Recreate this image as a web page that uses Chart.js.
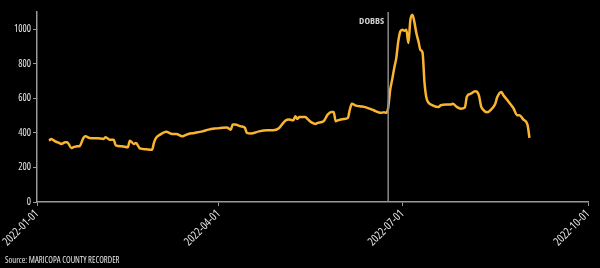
<!DOCTYPE html>
<html>
<head>
<meta charset="utf-8">
<script src="https://cdn.jsdelivr.net/npm/chart.js@4.4.0/dist/chart.umd.min.js"></script>
<style>
  html, body { margin: 0; padding: 0; background: #000; }
  #wrap { position: relative; width: 600px; height: 268px; }
  #source {
    position: absolute; left: 5px; top: 254px;
    font-family: 'Open Sans', sans-serif; font-stretch: condensed;
    font-size: 8.6px; color: #e6e6e6;
  }
</style>
</head>
<body>
<div id="wrap">
  <canvas id="chart"></canvas>
  <div id="source">Source: MARICOPA COUNTY RECORDER</div>
</div>
<script>
// daily readings
const dates = [
  '2022-01-07','2022-01-08','2022-01-10','2022-01-12','2022-01-13','2022-01-15','2022-01-16','2022-01-18',
  '2022-01-19','2022-01-21','2022-01-22','2022-01-24','2022-01-25','2022-01-27','2022-01-31','2022-02-03',
  '2022-02-04','2022-02-06','2022-02-08','2022-02-09','2022-02-12','2022-02-15','2022-02-16','2022-02-18',
  '2022-02-19','2022-02-21','2022-02-24','2022-02-27','2022-02-28','2022-03-01','2022-03-03','2022-03-06',
  '2022-03-09','2022-03-11','2022-03-14','2022-03-15','2022-03-17','2022-03-20','2022-03-24','2022-03-27',
  '2022-03-30','2022-04-02','2022-04-05','2022-04-07','2022-04-08','2022-04-09','2022-04-12','2022-04-14',
  '2022-04-15','2022-04-17','2022-04-21','2022-04-25','2022-04-28','2022-05-01','2022-05-04','2022-05-06',
  '2022-05-08','2022-05-09','2022-05-10','2022-05-11','2022-05-14','2022-05-15','2022-05-17','2022-05-19',
  '2022-05-20','2022-05-23','2022-05-25','2022-05-27','2022-05-28','2022-05-29','2022-05-30','2022-06-02',
  '2022-06-04','2022-06-05','2022-06-06','2022-06-08','2022-06-10','2022-06-13','2022-06-16','2022-06-18',
  '2022-06-20','2022-06-22','2022-06-23','2022-06-24','2022-06-25','2022-06-26','2022-06-27','2022-06-28',
  '2022-06-29','2022-06-30','2022-07-01','2022-07-02','2022-07-03','2022-07-04','2022-07-05','2022-07-06',
  '2022-07-07','2022-07-08','2022-07-09','2022-07-10','2022-07-11','2022-07-12','2022-07-13','2022-07-14',
  '2022-07-16','2022-07-19','2022-07-20','2022-07-23','2022-07-25','2022-07-26','2022-07-28','2022-07-30',
  '2022-08-01','2022-08-02','2022-08-04','2022-08-06','2022-08-07','2022-08-08','2022-08-09','2022-08-10',
  '2022-08-12','2022-08-14','2022-08-16','2022-08-17','2022-08-19','2022-08-20','2022-08-22','2022-08-25',
  '2022-08-27','2022-08-28','2022-08-30','2022-09-01','2022-09-02'
];
const registrations = [
  355, 365, 351, 342, 336, 346, 346, 313,
  317, 323, 323, 371, 380, 371, 369, 365,
  375, 361, 361, 328, 323, 317, 355, 336,
  342, 310, 305, 303, 345, 371, 390, 406,
  394, 394, 380, 384, 394, 400, 409, 419,
  425, 429, 432, 419, 448, 448, 438, 429,
  400, 396, 409, 415, 415, 429, 471, 477,
  473, 496, 481, 492, 492, 481, 461, 452,
  458, 467, 506, 521, 521, 467, 473, 481,
  486, 535, 569, 558, 554, 548, 535, 525,
  516, 519, 516, 545, 650, 710, 776, 833,
  930, 987, 997, 991, 997, 920, 1055, 1084,
  1040, 975, 930, 880, 866, 690, 600, 575,
  560, 550, 560, 564, 564, 569, 550, 540,
  548, 611, 627, 641, 638, 615, 555, 535,
  519, 535, 567, 606, 637, 620, 590, 544,
  502, 502, 477, 448, 371
];
const xTickDates = ['2022-01-01', '2022-04-01', '2022-07-01', '2022-10-01'];
const yTicks = [0, 200, 400, 600, 800, 1000];
const dobbsDate = '2022-06-24';
const dobbsLabel = 'DOBBS';

const START = Date.UTC(2022, 0, 1);
function toDay(s) {
  const p = s.split('-').map(Number);
  return (Date.UTC(p[0], p[1] - 1, p[2]) - START) / 864e5;
}

const points = dates.map((d, i) => ({ x: toDay(d), y: registrations[i] }));
const FONT = "'Open Sans', sans-serif";

// vertical marker for the Dobbs decision
const dobbsLine = {
  id: 'dobbsLine',
  afterDatasetsDraw(chart) {
    const ctx = chart.ctx;
    const area = chart.chartArea;
    const x = chart.scales.x.getPixelForValue(toDay(dobbsDate));
    ctx.save();
    ctx.strokeStyle = '#8a8a8a';
    ctx.lineWidth = 1.5;
    ctx.beginPath();
    ctx.moveTo(x, area.top);
    ctx.lineTo(x, area.bottom);
    ctx.stroke();
    ctx.fillStyle = '#cfcfcf';
    ctx.font = 'bold condensed 9.5px ' + FONT;
    ctx.textAlign = 'right';
    ctx.textBaseline = 'middle';
    ctx.fillText(dobbsLabel, x - 4, area.top + 9);
    ctx.restore();
  }
};

new Chart(document.getElementById('chart'), {
  type: 'line',
  data: {
    datasets: [{
      data: points,
      borderColor: '#fbb430',
      borderWidth: 2.5,
      pointRadius: 0,
      cubicInterpolationMode: 'monotone',
      fill: false
    }]
  },
  options: {
    responsive: true,
    maintainAspectRatio: false,
    animation: false,
    layout: { padding: { top: 12, right: 12, left: 0, bottom: 0 } },
    plugins: { legend: { display: false }, tooltip: { enabled: false } },
    scales: {
      x: {
        type: 'linear',
        min: 0,
        max: toDay(xTickDates[xTickDates.length - 1]),
        afterBuildTicks: s => { s.ticks = xTickDates.map(d => ({ value: toDay(d) })); },
        afterFit: s => { s.height = 66; s.paddingLeft = 0; s.paddingRight = 0; },
        ticks: {
          autoSkip: false,
          minRotation: 45,
          maxRotation: 45,
          color: '#e6e6e6',
          padding: 1,
          font: { family: FONT, size: 11.5, weight: 'condensed' },
          callback: (v, i) => xTickDates[i]
        },
        grid: { drawOnChartArea: false, color: '#999', tickLength: 4 },
        border: { color: '#999', width: 1.5 }
      },
      y: {
        min: 0,
        max: 1100,
        afterBuildTicks: s => { s.ticks = yTicks.map(v => ({ value: v })); },
        afterFit: s => { s.width = 37; },
        ticks: {
          color: '#e6e6e6',
          padding: 2,
          font: { family: FONT, size: 10, weight: 'condensed' },
          callback: v => String(v)
        },
        grid: { drawOnChartArea: false, color: '#999', tickLength: 4 },
        border: { color: '#999', width: 1.5 }
      }
    }
  },
  plugins: [dobbsLine]
});
</script>
</body>
</html>
